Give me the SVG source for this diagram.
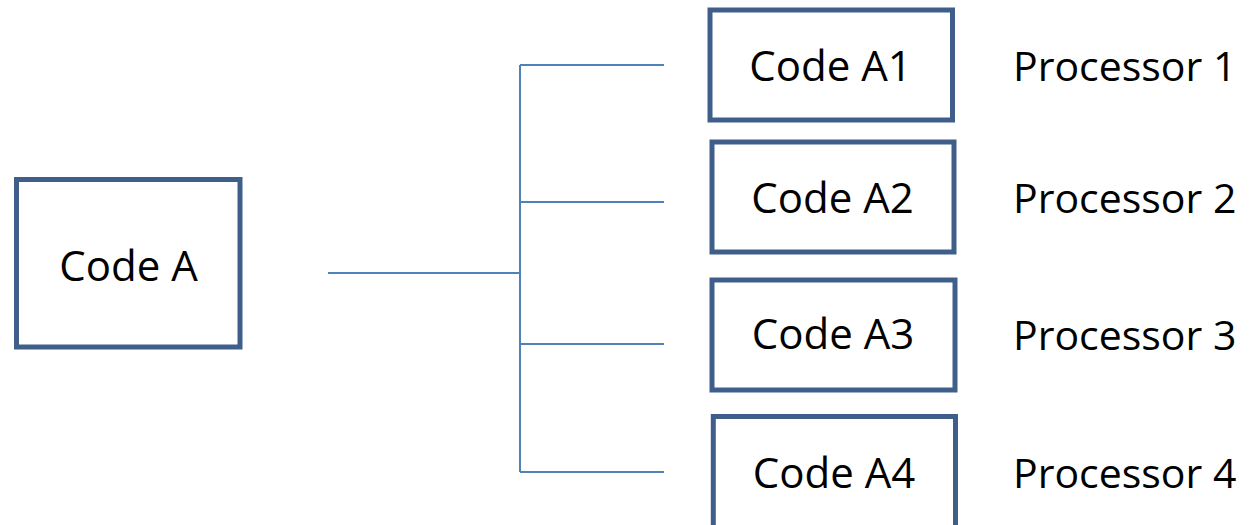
<svg xmlns="http://www.w3.org/2000/svg" width="1256" height="525" viewBox="0 0 1256 525">
<style>
.box{fill:#ffffff;stroke:#3F5F8A;stroke-width:5}
.lbl{font-family:"Open Sans","Liberation Sans",sans-serif;font-size:42px;fill:#000000}
.proc{font-size:41px}
.c{text-anchor:middle}
.conn{stroke:#4F81BD;stroke-width:2;fill:none}
</style>
<rect width="1256" height="525" fill="#ffffff"/>
<g id="connectors">
<line class="conn" x1="328" y1="273" x2="520" y2="273"/>
<line class="conn" x1="520" y1="65" x2="520" y2="472"/>
<line class="conn" x1="520" y1="65" x2="664" y2="65"/>
<line class="conn" x1="520" y1="202" x2="664" y2="202"/>
<line class="conn" x1="520" y1="344" x2="664" y2="344"/>
<line class="conn" x1="520" y1="472" x2="664" y2="472"/>
</g>
<g id="codeA">
<rect class="box" x="16.5" y="179.5" width="223.5" height="167.5"/>
<text class="lbl c" x="128.5" y="280.5">Code A</text>
</g>
<g id="codeA1">
<rect class="box" x="710" y="10" width="242.5" height="110"/>
<text class="lbl c" x="830.5" y="80.5">Code A1</text>
</g>
<g id="codeA2">
<rect class="box" x="712" y="142" width="242" height="110"/>
<text class="lbl c" x="832.5" y="213">Code A2</text>
</g>
<g id="codeA3">
<rect class="box" x="712" y="280" width="243" height="110"/>
<text class="lbl c" x="833" y="349">Code A3</text>
</g>
<g id="codeA4">
<rect class="box" x="713.3" y="416.5" width="242.2" height="130"/>
<text class="lbl c" x="834" y="488">Code A4</text>
</g>
<g id="processors">
<text class="lbl proc" x="1013" y="80.5">Processor 1</text>
<text class="lbl proc" x="1013" y="212.5">Processor 2</text>
<text class="lbl proc" x="1013" y="350">Processor 3</text>
<text class="lbl proc" x="1013" y="488">Processor 4</text>
</g>
</svg>
